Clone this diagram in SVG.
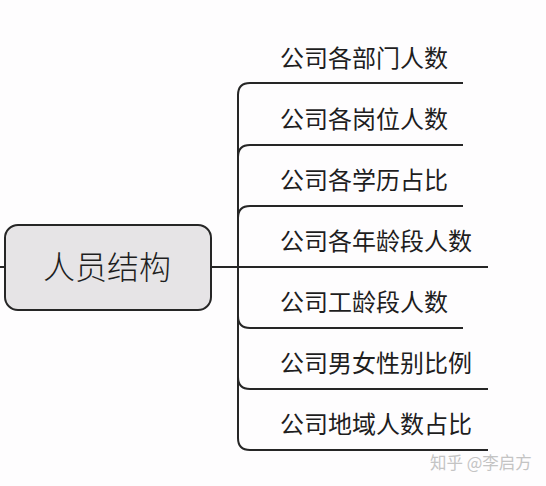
<svg xmlns="http://www.w3.org/2000/svg" width="546" height="486" viewBox="0 0 546 486">
<style>
.c{fill:none;stroke:#262626;stroke-width:2}
.t{font-family:"Noto Sans CJK SC","Noto Sans",sans-serif;font-size:24px;fill:#1e1e1e}
.root{font-family:"Noto Sans CJK SC","Noto Sans",sans-serif;font-size:32px;font-weight:300;fill:#1e1e1e}
.wm{font-family:"Noto Sans CJK SC","Noto Sans",sans-serif;font-size:16.5px;fill:#c4c4c4}
</style>
<rect width="546" height="486" fill="#fefdfe"/>
<g id="connectors">
<path class="c" d="M0,267 H5"/>
<path class="c" d="M211,267 H488"/>
<path class="c" d="M238,95 V438"/>
<path class="c" d="M238,95 Q238,83 250,83 H463"/>
<path class="c" d="M238,157 Q238,145 250,145 H463"/>
<path class="c" d="M238,218 Q238,206 250,206 H463"/>
<path class="c" d="M238,316 Q238,328 250,328 H463"/>
<path class="c" d="M238,377 Q238,389 250,389 H488"/>
<path class="c" d="M238,438 Q238,450 250,450 H488"/>
</g>
<g id="root">
<rect x="5" y="225" width="206" height="85" rx="13" fill="#e6e4e6" stroke="#262626" stroke-width="2"/>
<text class="root" x="107" y="279" text-anchor="middle">人员结构</text>
</g>
<g id="n1"><text class="t" x="280" y="67">公司各部门人数</text></g>
<g id="n2"><text class="t" x="280" y="128">公司各岗位人数</text></g>
<g id="n3"><text class="t" x="280" y="189">公司各学历占比</text></g>
<g id="n4"><text class="t" x="280" y="250">公司各年龄段人数</text></g>
<g id="n5"><text class="t" x="280" y="311">公司工龄段人数</text></g>
<g id="n6"><text class="t" x="280" y="372">公司男女性别比例</text></g>
<g id="n7"><text class="t" x="280" y="433">公司地域人数占比</text></g>
<text class="wm" x="430" y="469">知乎 @李启方</text>
</svg>
